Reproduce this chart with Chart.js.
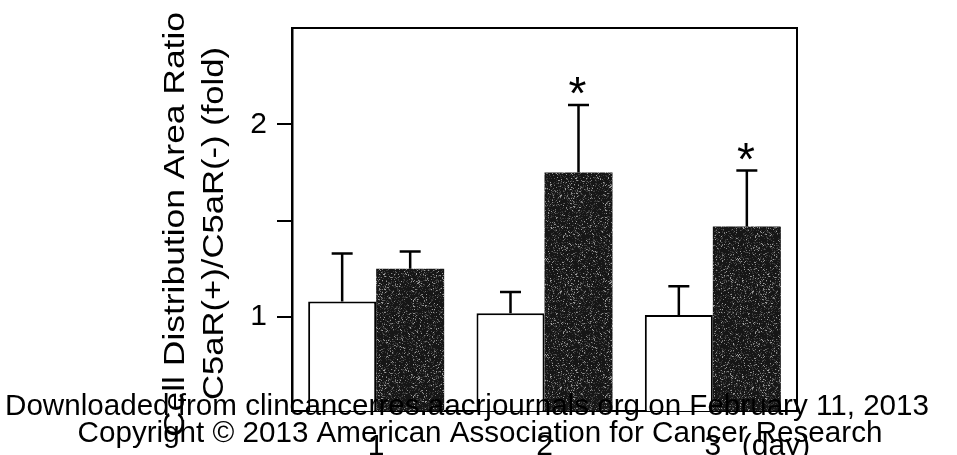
<!DOCTYPE html>
<html>
<head>
<meta charset="utf-8">
<script src="https://cdn.jsdelivr.net/npm/chart.js@4.4.1/dist/chart.umd.min.js"></script>
<style>
  html, body { margin: 0; padding: 0; background: #fff; overflow: hidden; width: 957px; height: 455px; }
  canvas { display: block; }
</style>
</head>
<body>
<canvas id="chart" width="957" height="480" style="width:957px;height:480px"></canvas>
<script>
// Day of measurement and fold-change values (mean and SD) per group
const days = ['1', '2', '3'];
const controlMeans = [1.08, 1.02, 1.01];
const controlSD = [0.25, 0.11, 0.15];
const c5arMeans = [1.25, 1.75, 1.47];
const c5arSD = [0.09, 0.35, 0.29];
const significance = ['', '*', '*'];

// Axis ticks and text
const yTickValues = [1, 1.5, 2];
const yTickLabels = ['1', '', '2'];
const yTitleLines = ['Cell Distribution Area Ratio', 'C5aR(+)/C5aR(-) (fold)'];
const xUnit = '(day)';
const footerLines = [
  'Downloaded from clincancerres.aacrjournals.org on February 11, 2013',
  'Copyright \u00A9 2013 American Association for Cancer Research'
];

const FONT = '"Liberation Sans", Arial, Helvetica, sans-serif';
Chart.defaults.font.family = FONT;
Chart.defaults.color = '#000';

// Speckled dark fill for the C5aR(+) bars (deterministic hash grain)
function grainPattern() {
  const s = 96;
  const cv = document.createElement('canvas');
  cv.width = cv.height = s;
  const g = cv.getContext('2d');
  const img = g.createImageData(s, s);
  for (let y = 0; y < s; y++) {
    for (let x = 0; x < s; x++) {
      let h = (Math.imul(x, 374761393) + Math.imul(y, 668265263)) >>> 0;
      h = Math.imul(h ^ (h >>> 13), 1274126177) >>> 0;
      h = (h ^ (h >>> 16)) >>> 0;
      const r = h % 1000;
      let v = 22;
      if (r < 90) v = 85 + ((h >>> 10) % 80);
      else if (r < 280) v = 42 + ((h >>> 12) % 25);
      const k = (y * s + x) * 4;
      img.data[k] = img.data[k + 1] = img.data[k + 2] = v;
      img.data[k + 3] = 255;
    }
  }
  g.putImageData(img, 0, 0);
  return g.createPattern(cv, 'repeat');
}

const TICK_FONT = 30;
const X_TICK_PAD = 18;

const decorations = {
  id: 'decorations',
  afterDatasetsDraw(chart) {
    const ctx = chart.ctx;
    const yScale = chart.scales.y;
    const groups = [[controlMeans, controlSD], [c5arMeans, c5arSD]];
    groups.forEach(([means, sds], di) => {
      const meta = chart.getDatasetMeta(di);
      meta.data.forEach((bar, j) => {
        const top = yScale.getPixelForValue(means[j] + sds[j]);
        ctx.save();
        ctx.strokeStyle = '#000';
        ctx.lineWidth = 2.5;
        ctx.beginPath();
        ctx.moveTo(bar.x, bar.y);
        ctx.lineTo(bar.x, top);
        ctx.moveTo(bar.x - 10.5, top);
        ctx.lineTo(bar.x + 10.5, top);
        ctx.stroke();
        if (di === 1 && significance[j]) {
          const size = 46;
          ctx.fillStyle = '#000';
          ctx.font = size + 'px ' + FONT;
          ctx.textAlign = 'center';
          ctx.textBaseline = 'alphabetic';
          ctx.fillText(significance[j], bar.x - 1, top - 15.5 + 0.43 * size);
        }
        ctx.restore();
      });
    });
  },
  afterDraw(chart) {
    const ctx = chart.ctx;
    const a = chart.chartArea;
    ctx.save();
    // closing frame on top and right
    ctx.strokeStyle = '#000';
    ctx.lineWidth = 2;
    ctx.beginPath();
    ctx.moveTo(a.left, a.top);
    ctx.lineTo(a.right, a.top);
    ctx.lineTo(a.right, a.bottom);
    ctx.stroke();

    // two-line vertical axis title
    ctx.fillStyle = '#000';
    ctx.font = '29px ' + FONT;
    ctx.textAlign = 'center';
    ctx.textBaseline = 'alphabetic';
    const titleSpec = [
      { x: 184, cy: 224.5, len: 425 },
      { x: 223, cy: 223.5, len: 353 }
    ];
    yTitleLines.forEach((line, i) => {
      const sp = titleSpec[i];
      const w = ctx.measureText(line).width;
      ctx.save();
      ctx.translate(sp.x, sp.cy);
      ctx.rotate(-Math.PI / 2);
      ctx.scale(sp.len / w, 1);
      ctx.fillText(line, 0, 0);
      ctx.restore();
    });

    // unit next to the last category label
    const xs = chart.scales.x;
    ctx.font = TICK_FONT + 'px ' + FONT;
    ctx.textAlign = 'left';
    ctx.textBaseline = 'middle';
    ctx.fillText(xUnit, xs.getPixelForTick(days.length - 1) + 29, xs.top + X_TICK_PAD + TICK_FONT * 0.6);

    // source lines across the bottom
    ctx.font = '29.6px ' + FONT;
    ctx.textAlign = 'center';
    ctx.textBaseline = 'alphabetic';
    ctx.fillText(footerLines[0], 467, 415);
    ctx.fillText(footerLines[1], 480, 442);
    ctx.restore();
  }
};

new Chart(document.getElementById('chart'), {
  type: 'bar',
  data: {
    labels: days,
    datasets: [
      {
        label: 'C5aR(-)',
        data: controlMeans,
        backgroundColor: '#ffffff',
        borderColor: '#000000',
        borderWidth: 2,
        categoryPercentage: 0.808,
        barPercentage: 1.0
      },
      {
        label: 'C5aR(+)',
        data: c5arMeans,
        backgroundColor: grainPattern(),
        borderColor: '#161616',
        borderWidth: 0,
        categoryPercentage: 0.808,
        barPercentage: 1.0
      }
    ]
  },
  options: {
    responsive: false,
    maintainAspectRatio: false,
    devicePixelRatio: 1,
    animation: false,
    layout: { padding: { left: 0, right: 160, top: 27, bottom: 0 } },
    plugins: { legend: { display: false }, tooltip: { enabled: false }, title: { display: false } },
    scales: {
      x: {
        type: 'category',
        grid: { display: false, drawTicks: false },
        border: { display: true, color: '#000', width: 2 },
        ticks: { font: { size: TICK_FONT }, color: '#000', padding: X_TICK_PAD, maxRotation: 0, autoSkip: false },
        afterFit(scale) { scale.height = 480 - 411; }
      },
      y: {
        min: 0.512,
        max: 2.5,
        grid: { display: true, drawOnChartArea: false, drawTicks: true, tickLength: 15, color: '#000', lineWidth: 2 },
        border: { display: true, color: '#000', width: 2.5 },
        ticks: {
          font: { size: TICK_FONT },
          color: '#000',
          padding: 10,
          callback(value) {
            const i = yTickValues.indexOf(value);
            return i >= 0 ? yTickLabels[i] : '';
          }
        },
        afterBuildTicks(scale) { scale.ticks = yTickValues.map(v => ({ value: v })); },
        afterFit(scale) { scale.width = 292; }
      }
    }
  },
  plugins: [decorations]
});
</script>
</body>
</html>
